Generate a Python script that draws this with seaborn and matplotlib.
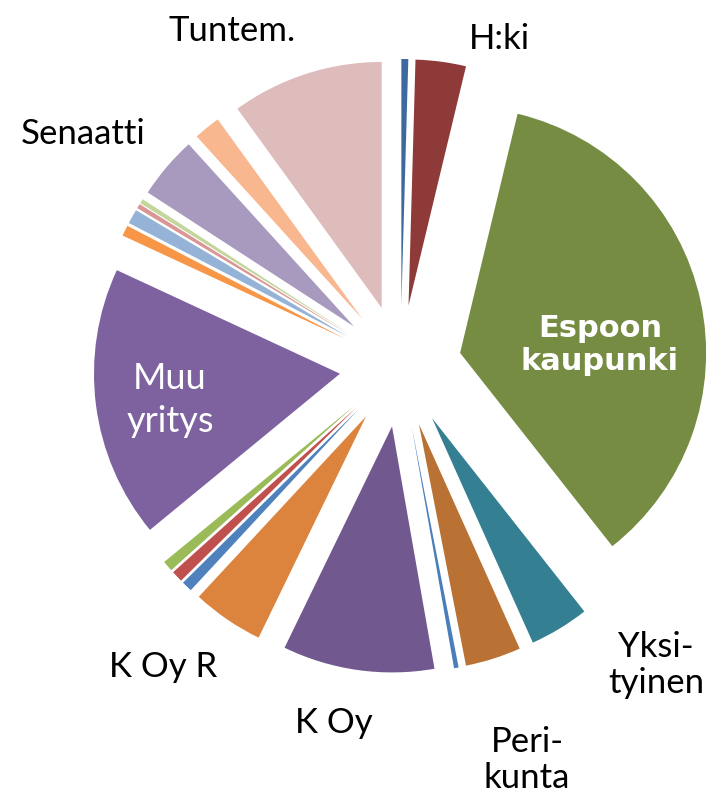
import matplotlib
matplotlib.use("Agg")
import matplotlib.pyplot as plt
import seaborn as sns

# slices clockwise from 12 o'clock, shares in percent
owners = ["", "H:ki", "Espoon\nkaupunki", "Yksi-\ntyinen", "Peri-\nkunta", "",
          "K Oy", "K Oy R", "", "", "", "Muu\nyritys", "", "", "", "",
          "Senaatti", "", "Tuntem."]
shares = [0.45, 3.3, 35.6, 3.9, 3.65, 0.3,
          9.95, 4.7, 0.7, 0.75, 0.7, 17.85, 0.7, 0.95, 0.3, 0.3,
          4.1, 1.75, 9.97]
colors = ["#3D6A9E", "#8E3A38", "#758C42", "#357F93", "#B97233", "#4A7EBB",
          "#71588F", "#DC843E", "#4F81BD", "#C0504D", "#9BBB59", "#7E62A0",
          "#F79646", "#95B3D7", "#D99694", "#C3D69B",
          "#A899BE", "#F8B78E", "#DFBCBC"]

sns.set_style("white")
plt.rcParams["font.family"] = ["Lato", "DejaVu Sans"]

W, H = 711, 802
cx, cy, R = 400.5, 366, 246

fig = plt.figure(figsize=(W / 100, H / 100), dpi=100)
ax = fig.add_axes([0, 0, 1, 1])
ax.pie(shares, colors=sns.color_palette(colors), explode=[0.248] * len(shares),
       startangle=90, counterclock=False, radius=1,
       wedgeprops={"linewidth": 0})
ax.set_xlim(-cx / R, (W - cx) / R)
ax.set_ylim(-(H - cy) / R, cy / R)
ax.set_aspect("auto")
ax.axis("off")

# label positions in pixels (from the top-left corner)
label_pos = {"H:ki": (499, 39), "Tuntem.": (232, 31), "Senaatti": (83, 134),
             "Yksi-\ntyinen": (656, 665), "Peri-\nkunta": (527, 760),
             "K Oy": (334, 723), "K Oy R": (163, 667)}
for name, (px, py) in label_pos.items():
    fig.text(px / W, 1 - py / H, name, ha="center", va="center",
             fontsize=25, color="black", linespacing=1.15)

fig.text(170 / W, 1 - 400 / H, owners[11], ha="center", va="center",
         fontsize=26, color="white", linespacing=1.35)
fig.text(600 / W, 1 - 345 / H, owners[2], ha="center", va="center",
         fontsize=22, color="white", fontweight="bold",
         family=["DejaVu Sans"], linespacing=1.15)

fig.savefig("out.png", dpi=100)
